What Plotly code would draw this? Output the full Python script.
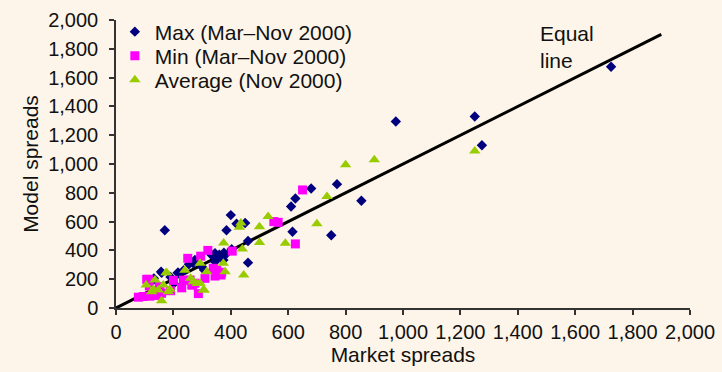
import plotly.graph_objects as go

# Max (Mar–Nov 2000)
max_x = [1725, 1250, 1275, 975, 855, 770, 750, 680, 625, 610, 615, 460, 460, 400, 385, 420, 450,
         360, 170, 345, 380, 365, 333, 374, 345, 356, 269, 254, 215, 157, 130, 403, 339, 376,
         275, 307, 217, 159, 132, 202, 235, 300, 190]
max_y = [1675, 1330, 1130, 1295, 745, 860, 505, 830, 760, 705, 530, 465, 315, 645, 540, 585, 590,
         370, 540, 380, 368, 356, 368, 333, 322, 352, 310, 303, 245, 252, 194, 408, 361, 384,
         333, 264, 245, 245, 206, 171, 260, 285, 215]

# Min (Mar–Nov 2000)
min_x = [650, 550, 565, 625, 405, 320, 295, 250, 351, 339, 345, 368, 287, 229, 200, 153, 113, 116,
         78, 95, 118, 142, 159, 258, 264, 366, 310, 235, 151, 107, 267, 275, 360, 190]
min_y = [820, 600, 595, 445, 395, 400, 360, 345, 264, 276, 222, 248, 100, 140, 192, 146, 199, 153,
         75, 80, 82, 87, 102, 194, 160, 229, 206, 194, 148, 199, 160, 172, 236, 120]

# Average (Nov 2000)
avg_x = [1250, 900, 800, 735, 700, 530, 500, 590, 500, 445, 430, 435, 375, 440, 374, 380, 293, 240,
         260, 270, 293, 307, 316, 177, 136, 105, 165, 130, 147, 182, 188, 159, 124, 283, 304, 174]
avg_y = [1090, 1030, 995, 775, 585, 635, 565, 450, 455, 230, 560, 590, 452, 410, 310, 252, 310, 262,
         206, 183, 172, 125, 252, 245, 194, 160, 160, 130, 125, 113, 130, 51, 113, 171, 125, 245]

# Equal line
eq_x = [0, 1900]
eq_y = [0, 1900]

x_ticks = list(range(0, 2001, 200))
y_ticks = list(range(0, 2001, 200))
tick_text = [f"{v:,}" for v in x_ticks]

BG = "#fdf5e9"
FONT = "Liberation Sans, Arial, sans-serif"
TXT = "#111111"

fig = go.Figure()
fig.add_trace(go.Scatter(x=eq_x, y=eq_y, mode="lines", line=dict(color="black", width=3),
                         showlegend=False, hoverinfo="skip"))
fig.add_trace(go.Scatter(x=max_x, y=max_y, mode="markers", name="Max (Mar–Nov 2000)", legend="legend",
                         marker=dict(symbol="diamond", size=8, color="#00007f")))
fig.add_trace(go.Scatter(x=min_x, y=min_y, mode="markers", name="Min (Mar–Nov 2000)", legend="legend2",
                         marker=dict(symbol="square", size=9, color="#ff00ff")))
fig.add_trace(go.Scatter(x=avg_x, y=avg_y, mode="markers", name="Average (Nov 2000)", legend="legend3",
                         marker=dict(symbol="triangle-up", size=10, color="#99cc00")))

axis_common = dict(showgrid=False, zeroline=False, showline=True, linecolor="#333333", linewidth=1.5,
                   ticks="outside", ticklen=5, tickwidth=1.5, tickcolor="#333333", automargin=False,
                   tickfont=dict(size=20, color=TXT, family=FONT))

fig.update_xaxes(range=[0, 2000], tickvals=x_ticks, ticktext=tick_text,
                 title=dict(text="Market spreads", font=dict(size=21, color=TXT, family=FONT), standoff=4),
                 **axis_common)
fig.update_yaxes(range=[0, 2000], tickvals=y_ticks, ticktext=[f"{v:,}" for v in y_ticks],
                 ticklabelstandoff=7,
                 title=dict(text="Model spreads", font=dict(size=21, color=TXT, family=FONT), standoff=4),
                 **axis_common)

fig.add_annotation(x=1470, y=0.999, xref="x", yref="paper", text="Equal<br>line", showarrow=False,
                   xanchor="left", yanchor="top", align="left",
                   font=dict(size=21, color=TXT, family=FONT))

leg = dict(x=-0.002, xanchor="left", yanchor="top", bgcolor="rgba(0,0,0,0)",
           font=dict(size=21, family=FONT, color=TXT))

fig.update_layout(
    width=722, height=372,
    margin=dict(l=116, r=32, t=20, b=64),
    paper_bgcolor=BG, plot_bgcolor=BG,
    font=dict(family=FONT, size=20, color=TXT),
    legend=dict(y=1.0295, **leg),
    legend2=dict(y=0.9461, **leg),
    legend3=dict(y=0.8628, **leg),
)

fig.write_html("out.html", config={"displayModeBar": False},
               post_script="document.body.style.margin='0';document.body.style.background='" + BG + "';")
